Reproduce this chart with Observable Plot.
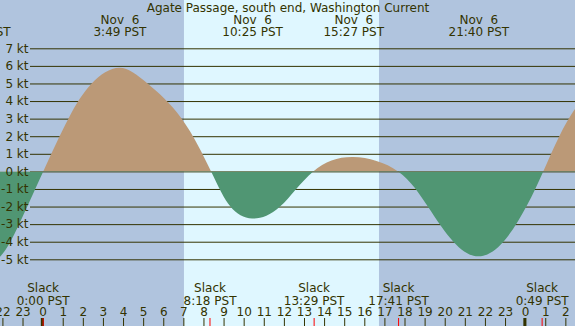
<!DOCTYPE html>
<html><head><meta charset="utf-8">
<script src="https://cdn.jsdelivr.net/npm/d3@7"></script>
<script src="https://cdn.jsdelivr.net/npm/@observablehq/plot@0.6"></script>
<style>
body{margin:0;background:#B0C4DE;}
svg text, svg tspan{white-space:pre;}
</style>
</head><body><div id="chart"></div>
<script>
const title = "Agate Passage, south end, Washington Current";

// current speed (kt) vs hours after midnight Nov 6 (PST)
const currentHours = [-3.12, -2.12, -1.17, 0.03, 1.28, 2.44, 3.82, 5.22, 6.92, 8.38, 9.34, 10.42, 11.81, 13.46, 15.45, 17.68, 19.16, 20.43, 21.67, 22.92, 24.06, 24.9, 25.7, 26.45, 27.2];
const currentKnots = [-5.45, -4.85, -3.0, 0.0, 3.0, 5.0, 5.9, 5.0, 3.0, 0.0, -2.0, -2.68, -2.0, 0.0, 0.82, 0.0, -2.0, -4.0, -4.83, -4.0, -2.0, 0.0, 2.0, 3.5, 4.6];

// max / min events (top labels)
const eventHours = [-3.12, 3.82, 10.42, 15.45, 21.67];
const eventDates = ["Nov  5", "Nov  6", "Nov  6", "Nov  6", "Nov  6"];
const eventTimes = ["20:53 PST", "3:49 PST", "10:25 PST", "15:27 PST", "21:40 PST"];

// slack events (bottom labels)
const slackHours = [0.0, 8.30, 13.48, 17.68, 24.82];
const slackTimes = ["0:00 PST", "8:18 PST", "13:29 PST", "17:41 PST", "0:49 PST"];

// daylight
const sunriseHour = 7.03;
const sunsetHour = 16.73;

// axis ticks
const hourTicks = [-2, -1, 0, 1, 2, 3, 4, 5, 6, 7, 8, 9, 10, 11, 12, 13, 14, 15, 16, 17, 18, 19, 20, 21, 22, 23, 24, 25, 26];
const hourLabels = ["22", "23", "0", "1", "2", "3", "4", "5", "6", "7", "8", "9", "10", "11", "12", "13", "14", "15", "16", "17", "18", "19", "20", "21", "22", "23", "0", "1", "2"];
const midnightTicks = [0, 24];
const knotTicks = [7, 6, 5, 4, 3, 2, 1, 0, -1, -2, -3, -4, -5];
const knotLabels = ["7 kt", "6 kt", "5 kt", "4 kt", "3 kt", "2 kt", "1 kt", "0 kt", "-1 kt", "-2 kt", "-3 kt", "-4 kt", "-5 kt"];

const xDomain = [-2.12, 26.48];

const night = "#B0C4DE", day = "#DFF7FF", flood = "#BB9977", ebb = "#509673", ink = "#333300";

const current = currentHours.map((h, i) => ({h, v: currentKnots[i]}));
const events = eventHours.map((h, i) => ({h, text: eventDates[i] + "\n" + eventTimes[i]}));
const slacks = slackHours.map((h, i) => ({h, text: "Slack\n" + slackTimes[i]}));
const hours = hourTicks.map((h, i) => ({h, text: hourLabels[i]}));
const knots = knotTicks.map((k, i) => ({k, text: knotLabels[i]}));

const W = 575, H = 326;
const chart = Plot.plot({
  width: W, height: H, margin: 0,
  x: {domain: xDomain, axis: null},
  y: {domain: [-5, 7], range: [259.3, 48.3], axis: null},
  style: {fontFamily: "DejaVu Sans", fontSize: "12px", color: ink, background: night},
  marks: [
    Plot.frame({fill: night, stroke: null}),
    Plot.rect([{a: sunriseHour, b: sunsetHour}], {x1: "a", x2: "b", fill: day}),
    Plot.ruleY(knots, {y: "k", insetLeft: 30, stroke: ink, strokeWidth: 1}),
    Plot.areaY(current, {x: "h", y1: 0, y2: "v", fill: flood, curve: "natural"}),
    Plot.areaY(current, {x: "h", y1: 0, y2: "v", fill: ebb, curve: "natural"}),
    Plot.text(knots, {y: "k", text: "text", frameAnchor: "left", dx: 28, textAnchor: "end", fill: ink}),
    Plot.text([title], {text: d => d, frameAnchor: "top", dy: 7.5, lineAnchor: "middle", fill: ink}),
    Plot.text(events, {x: "h", text: "text", frameAnchor: "top", dy: 25.5, lineAnchor: "middle", lineHeight: 1.05, fill: ink}),
    Plot.text(slacks, {x: "h", text: "text", frameAnchor: "bottom", dy: -32, lineAnchor: "middle", lineHeight: 1.05, fill: ink}),
    Plot.text(hours, {x: "h", text: "text", frameAnchor: "bottom", dy: -14, lineAnchor: "middle", fill: ink}),
    Plot.ruleX(hours, {x: "h", insetTop: 318, stroke: ink, strokeWidth: 1}),
    Plot.ruleX(midnightTicks, {x: d => d, insetTop: 318, stroke: ink, strokeWidth: 3, dx: -0.8}),
    Plot.ruleX(slackHours, {x: d => d, insetTop: 318, stroke: "#ff0000", strokeWidth: 1})
  ]
});

// split the current area at 0 kt: flood (above) and ebb (below)
const y0 = chart.scale("y").apply(0);
const svg = d3.select(chart);
const defs = svg.insert("defs", ":first-child");
defs.append("clipPath").attr("id", "clip-flood").append("rect").attr("x", 0).attr("y", 0).attr("width", W).attr("height", y0);
defs.append("clipPath").attr("id", "clip-ebb").append("rect").attr("x", 0).attr("y", y0).attr("width", W).attr("height", H - y0);
const areas = svg.selectAll('g[aria-label="area"]').nodes();
if (areas[0]) d3.select(areas[0]).attr("clip-path", "url(#clip-flood)");
if (areas[1]) d3.select(areas[1]).attr("clip-path", "url(#clip-ebb)");

document.getElementById("chart").appendChild(chart);
</script>
</body></html>
